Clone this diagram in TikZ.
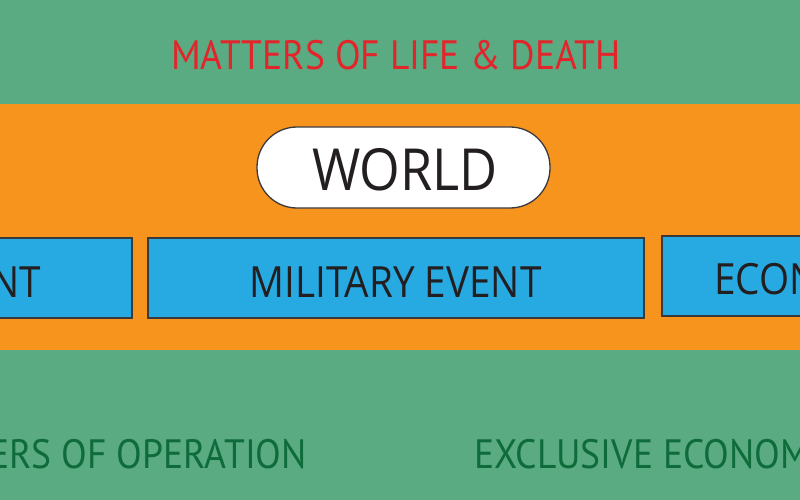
\documentclass[tikz,border=0pt]{standalone}
\usepackage{fontspec}
\setmainfont{Open Sans}
\newfontfamily\condfont[FakeStretch=0.915]{PT Sans}
\newfontfamily\boxfont[FakeStretch=0.9]{Open Sans}
\definecolor{bggreen}{HTML}{5AAA82}
\definecolor{bandorange}{HTML}{F7941D}
\definecolor{boxblue}{HTML}{27A9E1}
\definecolor{redtxt}{HTML}{E3252B}
\definecolor{greentxt}{HTML}{0E6B3A}
\definecolor{inktxt}{HTML}{231F20}
\definecolor{edge}{HTML}{3A3A3A}
\begin{document}
\begin{tikzpicture}[x=1pt,y=-1pt,
  eventbox/.style={draw=edge, line width=1.3pt, fill=boxblue, inner sep=0pt},
  boxtext/.style={text=inktxt, font=\boxfont\fontsize{43}{43}\selectfont, inner sep=0pt},
  zonetext/.style={font=\condfont\fontsize{41}{41}\selectfont, inner sep=0pt}]
\useasboundingbox (0,0) rectangle (800,500);
\clip (0,0) rectangle (800,500);
\fill[bggreen] (0,0) rectangle (800,500);
\fill[bandorange] (0,104) rectangle (800,350);
% title
\node[zonetext, text=redtxt, anchor=base] (title) at (396,70) {MATTERS OF LIFE \& DEATH};
% world pill
\node[draw=edge, line width=1.3pt, fill=white, rounded corners=40pt, minimum width=293pt, minimum height=81pt, inner sep=0pt] (world) at (403.5,167.5) {};
\node[text=inktxt, font=\boxfont\fontsize{58}{58}\selectfont, inner sep=0pt, anchor=base] (worldtxt) at (405,190) {WORLD};
% event boxes
\node[eventbox, minimum width=172pt, minimum height=80pt] (leftbox) at (46,278) {};
\node[boxtext, anchor=base east] (lefttxt) at (41,297) {NT};
\node[eventbox, minimum width=496pt, minimum height=80pt] (milbox) at (396,278) {};
\node[boxtext, anchor=base] (miltxt) at (395.5,297) {MILITARY EVENT};
\node[eventbox, minimum width=200pt, minimum height=80pt] (econbox) at (762,276) {};
\node[boxtext, anchor=base west] (econtxt) at (714,294) {ECON};
% bottom zone labels
\node[zonetext, text=greentxt, anchor=base east] (opstxt) at (307,468) {ERS OF OPERATION};
\node[zonetext, text=greentxt, anchor=base west] (eeztxt) at (474,468) {EXCLUSIVE ECONOM};
\end{tikzpicture}
\end{document}
